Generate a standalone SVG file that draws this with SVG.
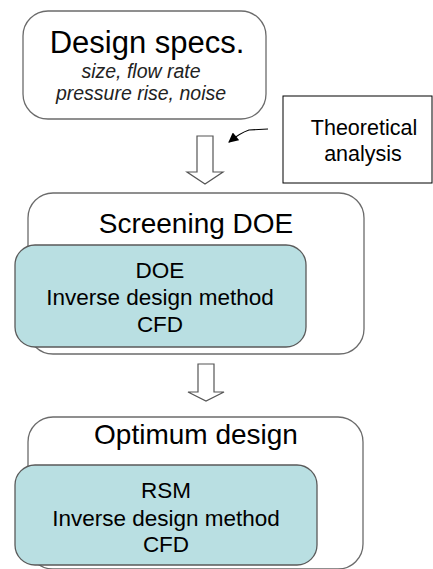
<svg xmlns="http://www.w3.org/2000/svg" width="433" height="569" viewBox="0 0 433 569">
<style>
  text { font-family: "Liberation Sans", Arial, sans-serif; fill: #000; text-anchor: middle; }
  .outer { fill: #fff; stroke: #6b6b6b; stroke-width: 1.3; }
  .inner { fill: #b9dfe2; stroke: #5a5a5a; stroke-width: 1.3; }
  .title { font-size: 28px; }
  .sub { font-size: 19.5px; font-style: italic; fill: #222; }
  .body { font-size: 22.5px; }
  .blk { fill: #fff; stroke: #555; stroke-width: 1.2; }
</style>
<defs>
  <marker id="ah" viewBox="0 0 10 10" refX="9" refY="5" markerWidth="11" markerHeight="10" markerUnits="userSpaceOnUse" orient="auto">
    <path d="M0,0 L10,5 L0,10 z" fill="#000"/>
  </marker>
</defs>
<rect width="433" height="569" fill="#fff"/>

<g id="design-specs">
  <rect class="outer" x="23" y="11" width="243" height="108" rx="25"/>
  <text class="title" x="147" y="53" style="font-size:31px">Design specs.</text>
  <text class="sub" x="141" y="78">size, flow rate</text>
  <text class="sub" x="141" y="100">pressure rise, noise</text>
</g>

<g id="theoretical-analysis">
  <rect x="283" y="96" width="149" height="87" fill="#fff" stroke="#000" stroke-width="1"/>
  <text x="364" y="135" style="font-size:21.5px">Theoretical</text>
  <text x="363" y="161" style="font-size:21.5px">analysis</text>
</g>

<g id="screening-doe">
  <rect class="outer" x="28" y="193" width="336" height="161" rx="25"/>
  <text class="title" x="196" y="233">Screening DOE</text>
  <rect class="inner" x="15" y="245" width="291" height="102" rx="20"/>
  <text class="body" x="160" y="278">DOE</text>
  <text class="body" x="160" y="305">Inverse design method</text>
  <text class="body" x="160" y="332">CFD</text>
</g>

<g id="optimum-design">
  <rect class="outer" x="28" y="417" width="335" height="152" rx="25"/>
  <text class="title" x="196" y="444">Optimum design</text>
  <rect class="inner" x="15" y="465" width="302" height="100" rx="20"/>
  <text class="body" x="166" y="498">RSM</text>
  <text class="body" x="166" y="526">Inverse design method</text>
  <text class="body" x="166" y="552">CFD</text>
</g>

<g id="connectors">
  <path class="blk" d="M197,136 H213 V172 H223 L205,184 L187,172 H197 Z"/>
  <path class="blk" d="M198,364 H214 V392 H224 L206,401 L188,392 H198 Z"/>
  <path d="M268,129 L249,130 Q240,133 229,142" fill="none" stroke="#000" stroke-width="1.2" marker-end="url(#ah)"/>
</g>
</svg>
